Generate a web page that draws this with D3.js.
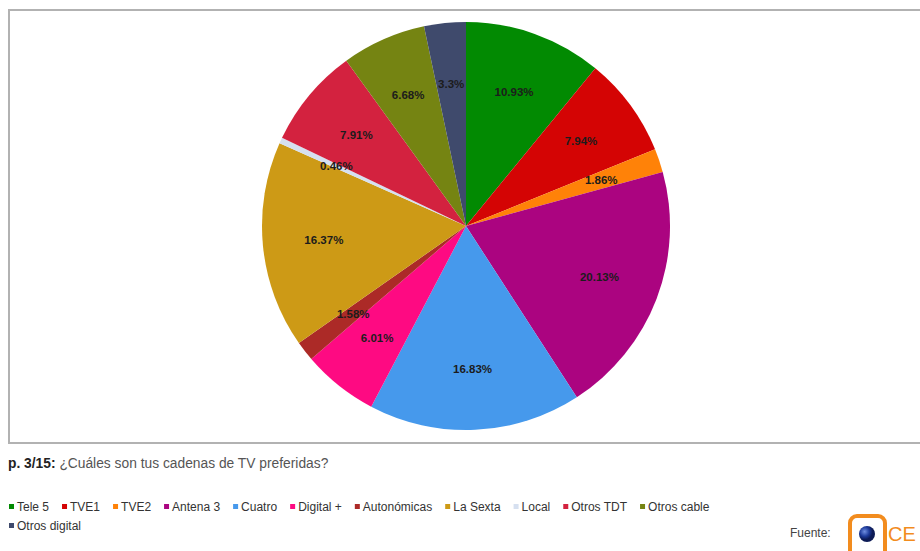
<!DOCTYPE html>
<html>
<head>
<meta charset="utf-8">
<script src="https://cdn.jsdelivr.net/npm/d3@7"></script>
<style>
  html, body { margin: 0; padding: 0; background: #fff; }
  svg { display: block; font-family: "Liberation Sans", Arial, Helvetica, sans-serif; }
</style>
</head>
<body>
<svg id="chart" width="920" height="551"></svg>
<script>
// data
var channels = ["Tele 5", "TVE1", "TVE2", "Antena 3", "Cuatro", "Digital +",
  "Autonómicas", "La Sexta", "Local", "Otros TDT", "Otros cable", "Otros digital"];
var shares = [10.93, 7.94, 1.86, 20.13, 16.83, 6.01, 1.58, 16.37, 0.46, 7.91, 6.68, 3.3];
var shareLabels = ["10.93%", "7.94%", "1.86%", "20.13%", "16.83%", "6.01%",
  "1.58%", "16.37%", "0.46%", "7.91%", "6.68%", "3.3%"];
var colors = ["#028a02", "#d40404", "#ff8208", "#ab0480", "#4699ec", "#fe0a82",
  "#ac2a27", "#cd9a16", "#d6e0f0", "#d3223f", "#758412", "#3f4a6c"];

var svg = d3.select("#chart");

// frame
svg.append("rect")
  .attr("x", 9).attr("y", 10)
  .attr("width", 930).attr("height", 433)
  .attr("fill", "none")
  .attr("stroke", "#b2b2b2")
  .attr("stroke-width", 2);

var cx = 466, cy = 226, radius = 204;

var color = d3.scaleOrdinal().domain(channels).range(colors);

var pie = d3.pie()
  .sort(null)
  .value(function (d, i) { return shares[i]; });

var arc = d3.arc().innerRadius(0).outerRadius(radius);
var labelArc = d3.arc().innerRadius(radius * 0.7).outerRadius(radius * 0.7);

var g = svg.append("g")
  .attr("transform", "translate(" + cx + "," + cy + ")");

var arcs = pie(channels);

g.append("g").selectAll("path")
  .data(arcs)
  .enter()
  .append("path")
  .attr("d", arc)
  .attr("fill", function (d) { return color(d.data); });

// labels on top of every slice
g.append("g").selectAll("text")
  .data(arcs)
  .enter()
  .append("text")
  .attr("transform", function (d) { return "translate(" + labelArc.centroid(d) + ")"; })
  .attr("dy", "0.35em")
  .attr("text-anchor", "middle")
  .attr("font-size", 11.5)
  .attr("font-weight", "bold")
  .attr("fill", "#1c1c1c")
  .text(function (d) { return shareLabels[d.index]; });

// question line
var q = svg.append("text")
  .attr("x", 8).attr("y", 468)
  .attr("font-size", 13.8);
q.append("tspan").attr("font-weight", "bold").attr("fill", "#222").text("p. 3/15: ");
q.append("tspan").attr("fill", "#555").text("¿Cuáles son tus cadenas de TV preferidas?");

// legend, flowing left to right and wrapping
var legend = svg.append("g").attr("font-size", 12);
var lx = 9, ly = 511, maxX = 750;
channels.forEach(function (name, i) {
  var item = legend.append("g");
  item.append("rect")
    .attr("width", 5).attr("height", 5)
    .attr("y", -7)
    .attr("fill", color(name));
  var t = item.append("text")
    .attr("x", 8)
    .attr("fill", "#333")
    .text(name);
  var w = 8 + t.node().getComputedTextLength();
  if (lx + w > maxX) { lx = 9; ly += 19; }
  item.attr("transform", "translate(" + lx + "," + ly + ")");
  lx += w + 13;
});

// source mark
svg.append("text")
  .attr("x", 790).attr("y", 537)
  .attr("font-size", 12)
  .attr("fill", "#444")
  .text("Fuente:");

var logo = svg.append("g");
var grad = svg.append("defs").append("radialGradient")
  .attr("id", "ball").attr("cx", "35%").attr("cy", "35%");
grad.append("stop").attr("offset", "0%").attr("stop-color", "#6f8ee0");
grad.append("stop").attr("offset", "60%").attr("stop-color", "#1d3a9a");
grad.append("stop").attr("offset", "100%").attr("stop-color", "#0c1a55");
logo.append("rect")
  .attr("x", 850).attr("y", 516)
  .attr("width", 35).attr("height", 44)
  .attr("rx", 7)
  .attr("fill", "#fff")
  .attr("stroke", "#f28c1e")
  .attr("stroke-width", 4);
logo.append("circle")
  .attr("cx", 867).attr("cy", 534).attr("r", 8)
  .attr("fill", "url(#ball)");
logo.append("text")
  .attr("x", 888).attr("y", 541)
  .attr("font-size", 20)
  .attr("fill", "#f28c1e")
  .text("CE");
</script>
</body>
</html>
